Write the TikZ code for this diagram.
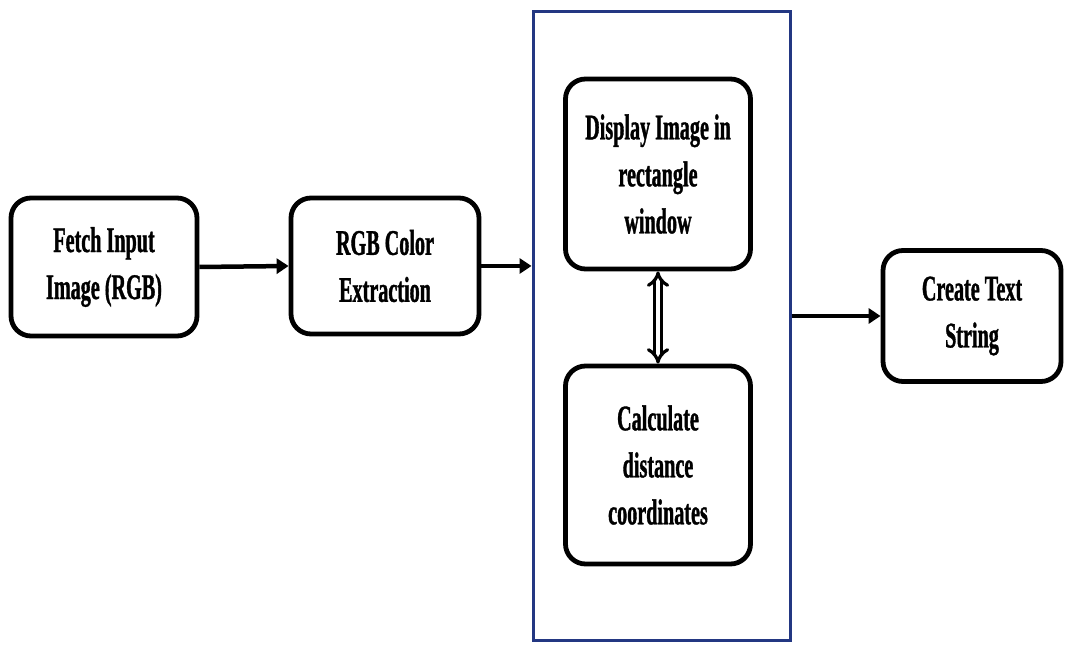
\documentclass[tikz,border=0pt]{standalone}
\usepackage{fontspec}
\setmainfont{Liberation Serif}[FakeStretch=0.56, BoldFeatures={FakeBold=1.0}]
\usetikzlibrary{arrows.meta}
\definecolor{navy}{RGB}{35,55,130}
\begin{document}
\begin{tikzpicture}[x=1pt,y=1pt,
  stepbox/.style={draw=black, line width=4.8pt, rounded corners=20pt, align=center,
    font=\fontsize{36}{47}\selectfont\bfseries, inner sep=0pt},
  conn/.style={line width=4.5pt, -{Triangle[length=12pt,width=15pt]}},
]
\useasboundingbox (0,0) rectangle (1065,645);
% outer blue frame
\node[draw=navy, line width=3pt, minimum width=257pt, minimum height=628pt, inner sep=0pt] (frame) at (661.5,319) {};
\node[stepbox, minimum width=186pt, minimum height=138pt] (fetch) at (104,378) {Fetch Input\\Image (RGB)};
\node[stepbox, minimum width=188pt, minimum height=136pt] (rgb) at (385,379) {RGB Color\\Extraction};
\node[stepbox, minimum width=185pt, minimum height=190pt] (disp) at (658,471) {Display Image in\\rectangle\\window};
\node[stepbox, minimum width=185pt, minimum height=198pt] (calc) at (658,180) {Calculate\\distance\\coordinates};
\node[stepbox, minimum width=178pt, minimum height=131pt] (text) at (972,329) {Create Text\\String};
\draw[conn] (fetch.east) -- (rgb.west);
\draw[conn] (rgb.east) -- (rgb.east -| frame.west);
\draw[conn] (frame.east |- text.west) -- (text.west);
\draw[line width=3.2pt, double, double distance=4pt, {Implies[length=9pt]}-{Implies[length=9pt]}] (disp.south) -- (calc.north);
\end{tikzpicture}
\end{document}
